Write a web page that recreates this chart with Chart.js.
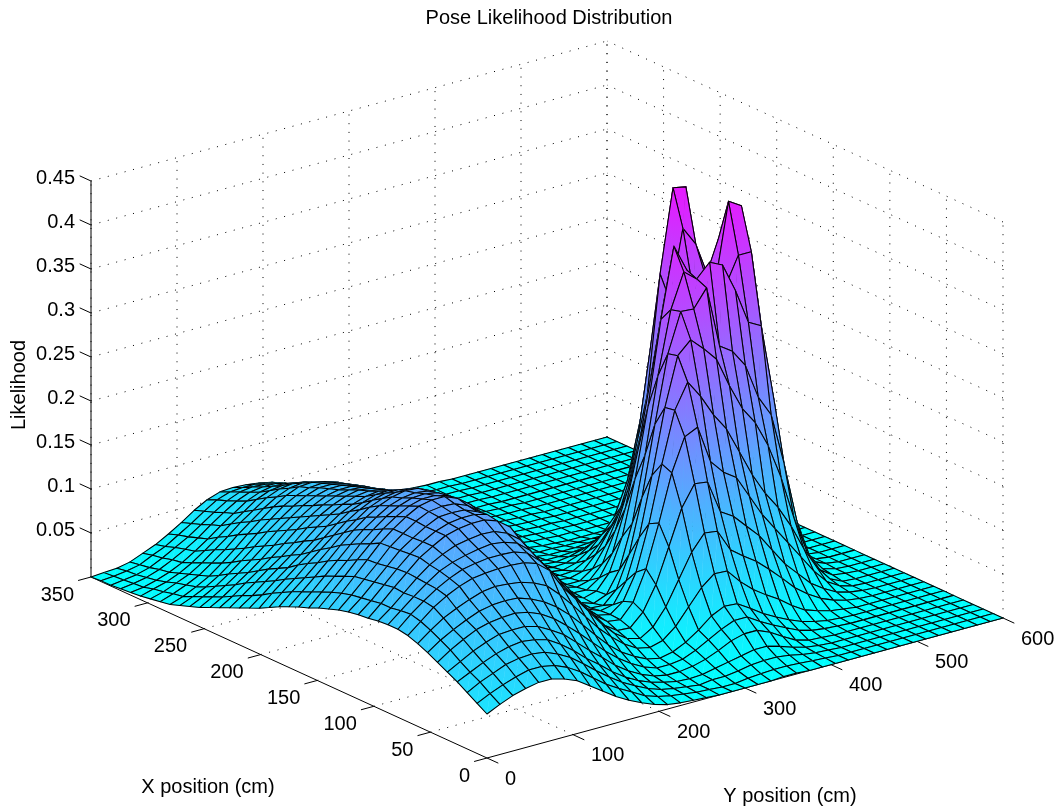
<!DOCTYPE html>
<html>
<head>
<meta charset="utf-8">
<title>Pose Likelihood Distribution</title>
<script src="https://cdn.jsdelivr.net/npm/chart.js@4"></script>
<style>
  html, body { margin: 0; padding: 0; background: #fff; }
  canvas { display: block; }
</style>
</head>
<body>
<canvas id="myChart" width="1058" height="810"></canvas>
<script>
const titleText = 'Pose Likelihood Distribution';
const xLabel = 'X position (cm)';
const yLabel = 'Y position (cm)';
const zLabel = 'Likelihood';

const xTicks = [0, 50, 100, 150, 200, 250, 300, 350];
const yTicks = [0, 100, 200, 300, 400, 500, 600];
const zTicks = [0.05, 0.1, 0.15, 0.2, 0.25, 0.3, 0.35, 0.4, 0.45];
const zTickLabels = ['0.05', '0.1', '0.15', '0.2', '0.25', '0.3', '0.35', '0.4', '0.45'];

// surface sample positions (cm)
const gridX = [0, 8.75, 17.5, 26.25, 35, 43.75, 52.5, 61.25, 70, 78.75, 87.5, 96.25, 105, 113.75, 122.5, 131.25, 140, 148.75, 157.5, 166.25, 175, 183.75, 192.5, 201.25, 210, 218.75, 227.5, 236.25, 245, 253.75, 262.5, 271.25, 280, 288.75, 297.5, 306.25, 315, 323.75, 332.5, 341.25, 350];
const gridY = [0, 15, 30, 45, 60, 75, 90, 105, 120, 135, 150, 165, 180, 195, 210, 225, 240, 255, 270, 285, 300, 315, 330, 345, 360, 375, 390, 405, 420, 435, 450, 465, 480, 495, 510, 525, 540, 555, 570, 585, 600];

// likelihood x 1000, one row per gridX, one column per gridY, missing tail = 0
const likelihood = [
  [50,57,63,67,70,70,66,60,50,40,30,22,15,9,5,3,2,1,0,0,0,0,0,1,1],
  [57,64,70,75,79,79,76,70,61,50,39,30,22,14,9,6,4,2,1,0,0,2,3,4,4,3,2,1],
  [64,72,78,84,87,88,86,80,72,61,49,38,28,20,13,8,5,3,1,3,3,5,8,9,9,7,4,2,1],
  [71,78,85,91,95,97,95,91,82,71,58,47,35,25,17,11,7,4,3,4,7,10,13,16,16,12,7,3,1],
  [77,85,93,99,104,105,105,101,93,84,71,58,46,33,23,15,9,6,6,8,12,18,25,29,29,23,14,6,2,1],
  [83,93,101,108,112,114,115,112,106,97,85,72,58,44,32,22,14,9,9,11,17,25,33,39,39,30,22,15,8,4,2,1],
  [89,99,107,114,120,123,124,123,118,111,101,88,73,57,42,30,21,14,11,14,21,31,43,50,49,40,30,22,15,9,5,2,1],
  [94,105,115,122,128,133,135,134,132,127,120,106,90,73,56,42,30,21,18,22,34,52,70,82,81,65,52,42,33,22,13,8,4,2],
  [98,110,122,131,138,143,145,146,146,145,140,128,105,88,70,52,37,27,23,32,51,78,105,123,121,96,85,75,62,48,33,22,13,7,3,1],
  [100,113,124,134,142,148,151,153,153,152,147,134,112,95,76,57,41,31,30,44,71,110,150,174,172,134,125,110,95,75,55,40,25,15,7,3,1],
  [100,112,124,135,145,151,155,158,160,158,153,141,122,104,85,65,47,36,34,50,84,132,185,222,229,186,170,160,135,110,90,70,50,30,14,5,1],
  [99,110,123,136,147,155,161,164,166,165,159,148,128,109,90,70,51,38,35,46,75,126,190,247,275,255,230,210,180,150,125,105,80,50,25,8,1],
  [97,110,124,137,150,159,167,171,173,173,168,157,136,115,94,72,53,40,34,37,60,105,172,245,300,314,300,284,250,220,200,170,130,80,38,13,3,1],
  [96,108,122,136,149,159,167,172,174,174,170,156,141,120,100,79,60,43,32,31,45,81,142,221,297,341,340,360,290,280,260,220,196,137,67,23,5,1],
  [94,106,120,134,148,158,167,174,175,174,168,157,143,122,102,81,63,45,33,28,34,58,107,181,267,338,377,365,380,373,340,300,292,203,99,34,8,2],
  [91,104,118,132,147,158,168,175,177,176,170,159,146,125,105,85,67,49,36,29,33,50,87,149,227,322,401,370,350,350,340,371,371,259,126,43,10,2],
  [87,101,116,131,146,158,168,176,179,179,173,162,146,127,106,86,68,51,38,30,29,39,63,110,173,252,334,360,340,340,340,427,418,290,136,46,11,2],
  [83,97,111,126,140,153,163,171,175,175,171,161,146,128,108,88,70,53,40,31,27,31,46,80,123,182,264,300,300,330,340,380,371,259,126,43,10,2],
  [78,92,106,120,135,147,158,166,171,172,169,160,146,129,109,90,72,55,42,31,25,25,35,57,88,132,187,220,316,394,372,330,292,203,99,34,8,2],
  [74,87,101,115,129,142,152,161,166,168,166,158,146,129,110,92,74,57,42,32,25,23,27,42,64,87,115,207,341,435,432,289,196,137,67,23,5,1],
  [69,82,95,109,123,136,147,156,162,165,164,157,146,130,112,94,76,59,44,32,25,21,22,30,44,62,85,150,250,330,320,235,130,70,38,13,3,1],
  [64,77,89,102,115,128,139,149,155,158,158,152,142,128,111,93,76,59,44,33,25,20,18,22,32,46,63,100,165,215,210,160,90,35,19,6,1],
  [58,71,83,96,108,120,132,141,148,152,152,147,138,125,109,92,75,59,45,33,24,19,16,17,22,31,40,50,85,115,115,90,50,20,8,2],
  [52,65,77,89,100,112,124,134,140,145,146,142,134,123,108,91,75,59,45,34,24,19,14,13,15,19,24,27,45,57,55,40,22,10,4,1],
  [47,58,70,81,92,104,116,126,133,138,140,137,130,120,106,90,74,59,45,34,24,17,13,10,10,11,12,15,22,26,26,18,10,5,2,1],
  [42,52,64,75,86,98,110,120,128,133,135,133,127,118,104,89,74,59,45,34,24,17,11,9,7,7,7,8,10,13,12,9,5,2,1],
  [37,47,58,69,79,91,104,114,122,128,131,129,124,115,103,88,73,59,46,35,25,18,12,8,5,5,4,4,4,4,4,3,2,1],
  [32,41,52,62,73,85,97,108,117,123,126,125,120,113,101,87,73,59,46,35,25,18,12,8,5,3,2,1,1,1,1,1],
  [27,35,45,55,66,78,91,102,111,118,121,121,117,110,99,86,72,59,46,35,25,18,12,8,5,3,2,1,1],
  [22,30,39,49,60,72,85,96,106,113,117,117,113,107,96,84,70,57,45,34,24,18,12,8,5,3,2,1,1],
  [18,25,33,43,54,66,79,90,100,108,113,113,110,104,94,81,68,56,44,33,24,17,12,8,5,3,2,1,1],
  [14,20,27,36,47,59,72,84,95,103,108,109,106,100,91,79,66,54,42,32,23,17,11,7,5,3,2,1,1],
  [10,15,22,30,41,53,66,78,89,98,104,105,102,97,88,76,64,52,41,31,22,16,11,7,5,3,2,1,1],
  [8,13,19,26,36,47,60,71,82,91,97,99,96,92,83,72,61,50,39,29,21,15,10,7,4,3,2,1,1],
  [6,10,16,22,31,42,53,65,75,85,91,93,91,86,79,68,58,47,37,28,20,14,10,6,4,3,2,1,1],
  [4,8,12,18,26,36,47,58,68,78,84,86,85,81,74,64,54,45,35,26,19,13,9,6,3,2,1,1],
  [3,5,9,14,21,30,40,51,61,71,77,80,79,75,69,60,51,42,33,24,18,12,8,5,3,2,1,1],
  [2,4,7,12,19,27,36,47,57,66,72,74,74,70,65,57,49,40,32,23,17,12,8,5,3,2,1,1],
  [1,3,5,9,16,24,32,42,52,61,67,69,68,65,60,54,46,38,30,22,16,11,8,4,3,2,1,1],
  [1,2,4,7,14,20,29,38,48,57,62,63,63,60,56,50,44,36,29,21,16,11,7,4,3,2,1,1],
  [0,1,2,5,11,17,25,34,44,52,57,58,57,55,52,47,41,34,27,20,15,10,7,4,3,2,1,1]
];

const xMax = 350, yMax = 600, zMax = 0.45;
const peak = 0.48; // top of the colour range

function zAt(i, j) {
  return (likelihood[i][j] || 0) / 1000;
}

// fixed 3D view, the box corners land on these canvas positions
function project(x, y, z) {
  return {
    x: 487 - 396 * x / xMax + 516 * y / yMax,
    y: 758 - 181 * x / xMax - 140 * y / yMax - 880 * z
  };
}

function coolColor(z) {
  const t = Math.min(1, Math.max(0, z / peak));
  return `rgb(${Math.round(255 * t)},${Math.round(255 * (1 - t))},255)`;
}

function lineSet(points, dashed) {
  return {
    type: 'line',
    data: points.map(p => project(p[0], p[1], p[2])),
    showLine: true,
    fill: false,
    pointRadius: 0,
    borderWidth: 1,
    borderColor: '#000',
    borderDash: dashed ? [1, 7.7] : [],
    tension: 0,
    clip: false
  };
}

const datasets = [];

// dotted grid, floor and the two back walls
xTicks.forEach(x => {
  if (x > 0) datasets.push(lineSet([[x, 0, 0], [x, yMax, 0]], true));
  datasets.push(lineSet([[x, yMax, 0], [x, yMax, zMax]], true));
});
yTicks.forEach(y => {
  if (y > 0) datasets.push(lineSet([[0, y, 0], [xMax, y, 0]], true));
  datasets.push(lineSet([[xMax, y, 0], [xMax, y, zMax]], true));
});
zTicks.forEach(z => {
  datasets.push(lineSet([[xMax, 0, z], [xMax, yMax, z]], true));
  datasets.push(lineSet([[0, yMax, z], [xMax, yMax, z]], true));
});

// solid axes and ticks
datasets.push(lineSet([[xMax, 0, 0], [0, 0, 0]], false));
datasets.push(lineSet([[0, 0, 0], [0, yMax, 0]], false));
datasets.push(lineSet([[xMax, 0, 0], [xMax, 0, zMax]], false));
xTicks.forEach(x => datasets.push(lineSet([[x, 0, 0], [x, -15, 0]], false)));
yTicks.forEach(y => datasets.push(lineSet([[0, y, 0], [-10, y, 0]], false)));
zTicks.forEach(z => datasets.push(lineSet([[xMax, 0, z], [xMax + 10, 0, z]], false)));

// surface vertices, drawn by surfacePlugin
const surfacePoints = [];
gridX.forEach((x, i) => {
  gridY.forEach((y, j) => {
    const p = project(x, y, zAt(i, j));
    surfacePoints.push({ x: p.x, y: p.y, z: zAt(i, j) });
  });
});
datasets.push({ label: 'Likelihood', data: surfacePoints, showLine: false, pointRadius: 0 });
const surfaceIndex = datasets.length - 1;

function shadeTriangle(ctx, a, b, c) {
  const det = (b.x - a.x) * (c.y - a.y) - (c.x - a.x) * (b.y - a.y);
  const zs = [a.z, b.z, c.z];
  const lo = Math.min(...zs), hi = Math.max(...zs);
  let style = coolColor((lo + hi) / 2);
  if (Math.abs(det) > 0.01 && hi - lo > 0.0005) {
    // linear z over the triangle gives a straight gradient
    const gx = ((b.z - a.z) * (c.y - a.y) - (c.z - a.z) * (b.y - a.y)) / det;
    const gy = ((c.z - a.z) * (b.x - a.x) - (b.z - a.z) * (c.x - a.x)) / det;
    const len2 = gx * gx + gy * gy;
    const from = [a, b, c][zs.indexOf(lo)];
    const k = (hi - lo) / len2;
    style = ctx.createLinearGradient(from.x, from.y, from.x + gx * k, from.y + gy * k);
    style.addColorStop(0, coolColor(lo));
    style.addColorStop(1, coolColor(hi));
  }
  ctx.fillStyle = style;
  ctx.strokeStyle = style;
  ctx.lineWidth = 0.5;
  ctx.beginPath();
  ctx.moveTo(a.x, a.y);
  ctx.lineTo(b.x, b.y);
  ctx.lineTo(c.x, c.y);
  ctx.closePath();
  ctx.fill();
  ctx.stroke();
}

const surfacePlugin = {
  id: 'surface',
  afterDatasetsDraw(chart) {
    const ctx = chart.ctx;
    const sx = chart.scales.x, sy = chart.scales.y;
    const rows = gridX.length, cols = gridY.length;
    const pts = chart.data.datasets[surfaceIndex].data.map(p => ({
      x: sx.getPixelForValue(p.x), y: sy.getPixelForValue(p.y), z: p.z
    }));
    ctx.save();
    ctx.lineJoin = 'round';
    // far corner first so nearer cells paint over
    for (let i = rows - 2; i >= 0; i--) {
      for (let j = cols - 2; j >= 0; j--) {
        const a = pts[i * cols + j], b = pts[(i + 1) * cols + j];
        const c = pts[(i + 1) * cols + j + 1], d = pts[i * cols + j + 1];
        shadeTriangle(ctx, a, b, c);
        shadeTriangle(ctx, a, c, d);
        ctx.strokeStyle = '#000';
        ctx.lineWidth = 1.05;
        ctx.beginPath();
        ctx.moveTo(a.x, a.y);
        ctx.lineTo(b.x, b.y);
        ctx.lineTo(c.x, c.y);
        ctx.lineTo(d.x, d.y);
        ctx.closePath();
        ctx.stroke();
      }
    }
    ctx.restore();
  }
};

const labelPlugin = {
  id: 'labels',
  afterDraw(chart) {
    const ctx = chart.ctx;
    const sx = chart.scales.x, sy = chart.scales.y;
    const put = (text, x, y, align) => {
      ctx.textAlign = align;
      ctx.fillText(text, sx.getPixelForValue(x), sy.getPixelForValue(y));
    };
    ctx.save();
    ctx.fillStyle = '#000';
    ctx.textBaseline = 'middle';
    ctx.font = '20px "Liberation Sans"';
    xTicks.forEach(x => {
      const p = project(x, 0, 0);
      put(String(x), p.x - 17, p.y + 18, 'right');
    });
    yTicks.forEach(y => {
      const p = project(0, y, 0);
      put(String(y), p.x + 18, p.y + 21, 'left');
    });
    zTicks.forEach((z, k) => {
      const p = project(xMax, 0, z);
      put(zTickLabels[k], p.x - 16, p.y - 3, 'right');
    });
    put(titleText, 549, 18, 'center');
    put(xLabel, 208, 787, 'center');
    put(yLabel, 790, 796, 'center');
    ctx.translate(sx.getPixelForValue(19), sy.getPixelForValue(385));
    ctx.rotate(-Math.PI / 2);
    ctx.textAlign = 'center';
    ctx.fillText(zLabel, 0, 0);
    ctx.restore();
  }
};

var ctx = document.getElementById('myChart').getContext('2d');
var myChart = new Chart(ctx, {
  type: 'scatter',
  data: { datasets: datasets },
  options: {
    responsive: false,
    animation: false,
    events: [],
    layout: { padding: 0 },
    plugins: { legend: { display: false }, tooltip: { enabled: false }, title: { display: false } },
    scales: {
      x: { type: 'linear', min: 0, max: 1058, display: false },
      y: { type: 'linear', min: 0, max: 810, reverse: true, display: false }
    }
  },
  plugins: [surfacePlugin, labelPlugin]
});
</script>
</body>
</html>
